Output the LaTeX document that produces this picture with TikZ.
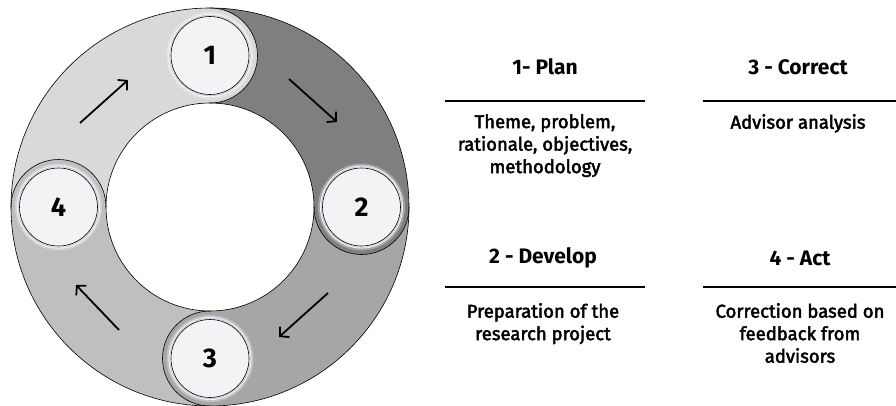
\documentclass[tikz,border=0pt]{standalone}
\usepackage{fontspec}
\setmainfont{Fira Sans}
\newfontfamily\bodyfont{Fira Sans}[FakeBold=2.5]
\usetikzlibrary{arrows.meta}
\definecolor{segA}{HTML}{7F7F7F}
\definecolor{segB}{HTML}{A6A6A6}
\definecolor{segC}{HTML}{BFBFBF}
\definecolor{segD}{HTML}{D9D9D9}
\definecolor{nodefill}{HTML}{F2F3F5}
\definecolor{nodering}{HTML}{C3CEDC}
\tikzset{
  numnode/.style={circle, minimum size=78pt, inner sep=0pt, fill=nodefill, draw=black, line width=0.6pt,
    font=\fontsize{27}{27}\selectfont\bfseries},
  flowarrow/.style={line width=1.8pt, -{Straight Barb[length=6.5pt,width=14pt,line width=1.8pt]}},
  headtext/.style={font=\fontsize{21}{24}\selectfont\bfseries, inner sep=0pt},
  bodytext/.style={font=\bodyfont\fontsize{18.5}{22.5}\selectfont, align=center, inner sep=0pt, anchor=north},
  rule/.style={line width=2pt},
  ringline/.style={line width=0.6pt},
}
\begin{document}
\begin{tikzpicture}[x=1pt,y=1pt]
\useasboundingbox (0,0) rectangle (896,405);
\coordinate (C) at (210,198);
% sectors
\def\Ro{199pt}\def\Ri{104pt}
\fill[segA] ([shift={(90:\Ro)}]C) arc[start angle=90,end angle=0,radius=\Ro] -- ([shift={(0:\Ri)}]C) arc[start angle=0,end angle=90,radius=\Ri] -- cycle;
\fill[segB] ([shift={(0:\Ro)}]C) arc[start angle=0,end angle=-90,radius=\Ro] -- ([shift={(-90:\Ri)}]C) arc[start angle=-90,end angle=0,radius=\Ri] -- cycle;
\fill[segC] ([shift={(-90:\Ro)}]C) arc[start angle=-90,end angle=-180,radius=\Ro] -- ([shift={(-180:\Ri)}]C) arc[start angle=-180,end angle=-90,radius=\Ri] -- cycle;
\fill[segD] ([shift={(180:\Ro)}]C) arc[start angle=180,end angle=90,radius=\Ro] -- ([shift={(90:\Ri)}]C) arc[start angle=90,end angle=180,radius=\Ri] -- cycle;
% node positions
\coordinate (p1) at ([shift={(90:151.5pt)}]C);
\coordinate (p2) at ([shift={(0:151.5pt)}]C);
\coordinate (p3) at ([shift={(-90:151.5pt)}]C);
\coordinate (p4) at ([shift={(180:151.5pt)}]C);
% caps
\foreach \p/\col/\a in {p1/segD/90, p2/segA/0, p3/segB/-90, p4/segC/180}{
  \fill[\col] (\p) circle (47.5pt);
  \draw[ringline] ([shift={(\a:47.5pt)}]\p) arc[start angle=\a, end angle=\a-180, radius=47.5pt];
  \fill[\col!70!white] (\p) circle (43.5pt);
  \fill[white] (\p) circle (41.5pt);
  \draw[nodering, line width=1pt] (\p) circle (40.3pt);
}
% ring outlines
\draw[ringline] (C) circle (\Ro);
\draw[ringline] (C) circle (\Ri);
% numbered nodes
\node[numnode] (n1) at (p1) {1};
\node[numnode] (n2) at (p2) {2};
\node[numnode] (n3) at (p3) {3};
\node[numnode] (n4) at (p4) {4};
% arrows
\coordinate (a1s) at (80,282); \coordinate (a1e) at (128,325);
\coordinate (a2s) at (289,326); \coordinate (a2e) at (337,283);
\coordinate (a3s) at (328,112); \coordinate (a3e) at (279,68);
\coordinate (a4s) at (119,75); \coordinate (a4e) at (76,120);
\draw[flowarrow] (a1s) -- (a1e);
\draw[flowarrow] (a2s) -- (a2e);
\draw[flowarrow] (a3s) -- (a3e);
\draw[flowarrow] (a4s) -- (a4e);
% right side text
\node[headtext] (h1) at (545,338) {1- Plan};
\node[headtext] (h3) at (798,338) {3 - Correct};
\node[headtext] (h2) at (543,147) {2 - Develop};
\node[headtext] (h4) at (800,147) {4 - Act};
\coordinate (r1a) at (445,304); \coordinate (r1b) at (645,304);
\coordinate (r3a) at (703,304); \coordinate (r3b) at (896,304);
\coordinate (r2a) at (445,118); \coordinate (r2b) at (645,118);
\coordinate (r4a) at (703,118); \coordinate (r4b) at (896,118);
\draw[rule] (r1a) -- (r1b);
\draw[rule] (r3a) -- (r3b);
\draw[rule] (r2a) -- (r2b);
\draw[rule] (r4a) -- (r4b);
\node[bodytext] (b1) at (545,291) {Theme, problem,\\rationale, objectives,\\methodology};
\node[bodytext] (b3) at (798,291) {Advisor analysis};
\node[bodytext] (b2) at (543,102) {Preparation of the\\research project};
\node[bodytext] (b4) at (800,102) {Correction based on\\feedback from\\advisors};
\end{tikzpicture}
\end{document}
